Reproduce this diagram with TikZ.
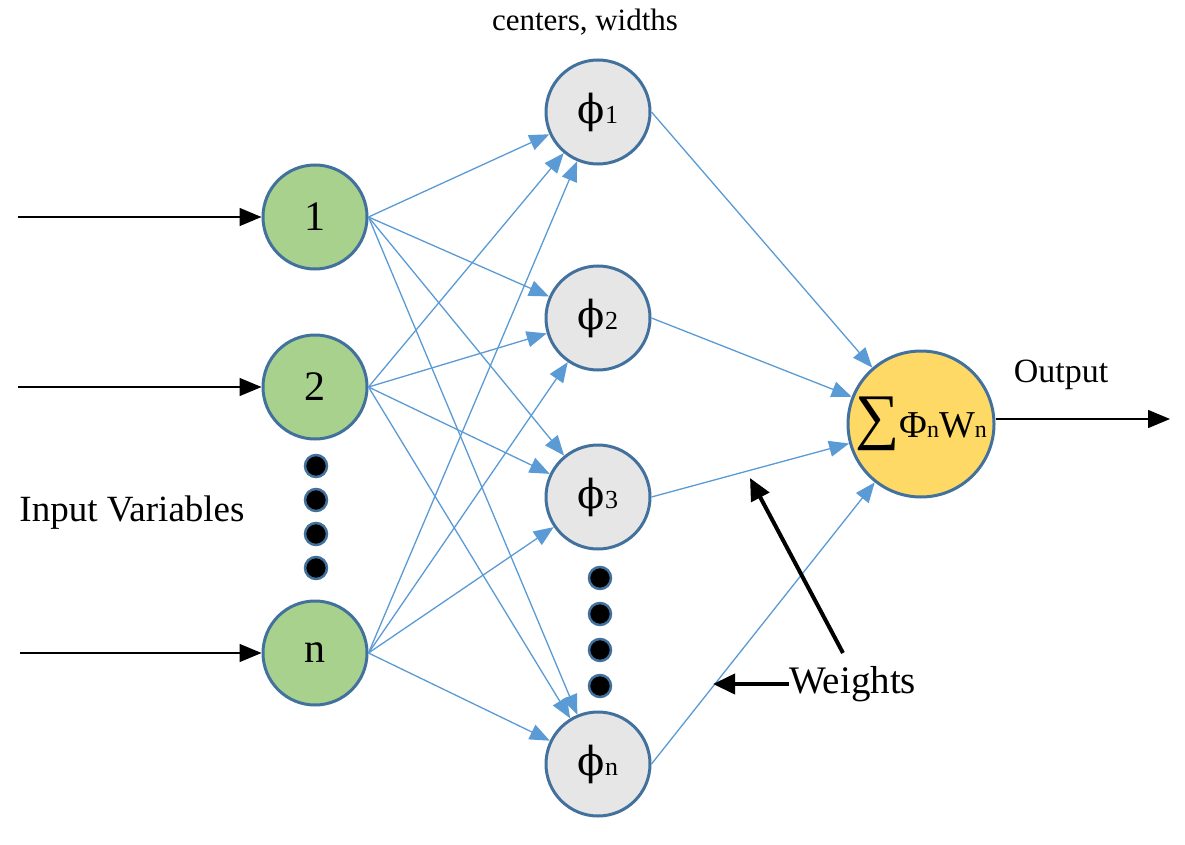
\documentclass[tikz,border=0pt]{standalone}
\usepackage{fontspec}
\setmainfont{Liberation Serif}
\newfontfamily\phifont{DejaVu Serif}
\usetikzlibrary{arrows.meta}
\definecolor{edgeblue}{HTML}{5B9BD5}
\definecolor{rimblue}{HTML}{41719C}
\definecolor{ingreen}{HTML}{A9D18E}
\definecolor{phigray}{HTML}{E7E6E6}
\definecolor{sumyellow}{HTML}{FFD966}
\tikzset{
  innode/.style={circle, draw=rimblue, line width=3pt, fill=ingreen, minimum size=104pt, inner sep=0pt, font=\fontsize{42}{44}\selectfont},
  phinode/.style={circle, draw=rimblue, line width=3pt, fill=phigray, minimum size=104pt, inner sep=0pt},
  sumnode/.style={circle, draw=rimblue, line width=3pt, fill=sumyellow, minimum size=146pt, inner sep=0pt},
  dotnode/.style={circle, draw=rimblue, line width=2.5pt, fill=black, minimum size=22pt, inner sep=0pt},
  wedge/.style={draw=edgeblue, line width=1.3pt, -{Triangle[length=20pt,width=16pt]}, fill=edgeblue},
  blackarrow/.style={draw=black, line width=1.5pt, -{Triangle[length=22pt,width=18pt]}},
  thickarrow/.style={draw=black, line width=4pt, -{Triangle[length=22pt,width=20pt]}},
  lbl/.style={inner sep=0pt}
}
\newcommand{\phil}[1]{{\phifont\fontsize{40}{40}\selectfont ϕ}{\fontsize{26}{26}\selectfont #1}}
\begin{document}
\begin{tikzpicture}[x=1pt,y=-1pt]
\useasboundingbox (0,0) rectangle (1185,845);
% input nodes
\node[innode] (i1) at (315,217) {1};
\node[innode] (i2) at (315,387) {2};
\node[innode] (in) at (315,653) {n};
% phi nodes
\node[phinode] (p1) at (598,112) {\phil{1}};
\node[phinode] (p2) at (598,318) {\phil{2}};
\node[phinode] (p3) at (598,497) {\phil{3}};
\node[phinode] (pn) at (598,764) {\phil{n}};
% sum node
\node[sumnode] (s) at (921,424) {{\fontsize{62}{62}\selectfont ∑}{\fontsize{38}{38}\selectfont Φ}{\fontsize{24}{24}\selectfont n}{\fontsize{38}{38}\selectfont W}{\fontsize{24}{24}\selectfont n}};
% dots
\node[dotnode] (d1) at (316,466) {};
\node[dotnode] (d2) at (316,500) {};
\node[dotnode] (d3) at (316,534) {};
\node[dotnode] (d4) at (316,568) {};
\node[dotnode] (e1) at (600,578) {};
\node[dotnode] (e2) at (600,614) {};
\node[dotnode] (e3) at (600,650) {};
\node[dotnode] (e4) at (600,686) {};
% edges input -> phi
\foreach \a in {i1,i2,in}{
  \foreach \b in {p1,p2,p3,pn}{
    \draw[wedge] (\a.east) -- (\b);
  }
}
% phi -> sum
\foreach \b in {p1,p2,p3,pn}{
  \draw[wedge] (\b.east) -- (s);
}
% input arrows
\coordinate (a1) at (18,217);
\coordinate (a2) at (18,387);
\coordinate (an) at (20,653);
\draw[blackarrow] (a1) -- (i1);
\draw[blackarrow] (a2) -- (i2);
\draw[blackarrow] (an) -- (in);
% output
\coordinate (out) at (1170,419);
\draw[blackarrow] (s.east |- out) -- (out);
\node[lbl, font=\fontsize{34}{38}\selectfont] (outl) at (1061,375) {Output};
% labels
\node[lbl, font=\fontsize{31}{34}\selectfont] (cw) at (585,22) {centers, widths};
\node[lbl, font=\fontsize{37}{40}\selectfont] (iv) at (132,513) {Input Variables};
\node[lbl, anchor=west, font=\fontsize{39}{42}\selectfont] (w) at (789,684) {Weights};
\coordinate (w1) at (713,684);
\coordinate (w2) at (750,478);
\coordinate (w0) at (843,653);
\draw[thickarrow] (w.west) -- (w1);
\draw[thickarrow] (w0) -- (w2);
\end{tikzpicture}
\end{document}
